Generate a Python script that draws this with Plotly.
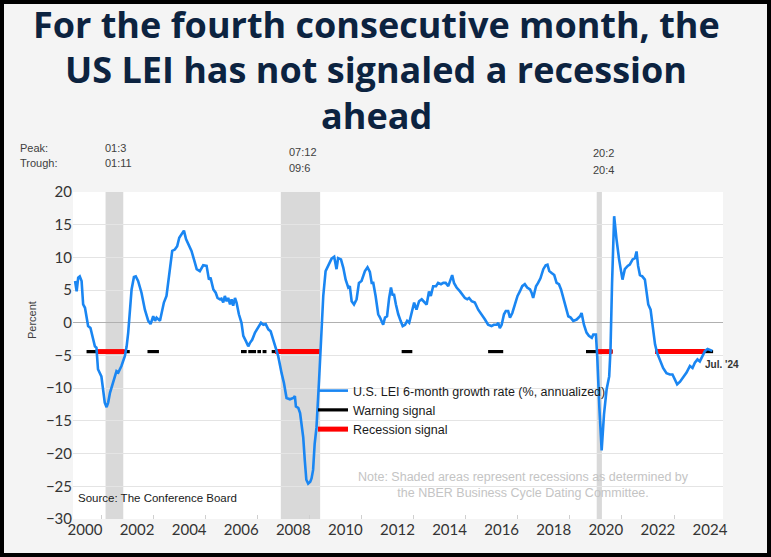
import plotly.graph_objects as go

# ---------------- data ----------------
lei_year = [
    2000.00, 2000.06, 2000.12, 2000.18, 2000.25, 2000.31, 2000.38, 2000.44, 2000.50, 2000.59,
    2000.70, 2000.76, 2000.82, 2000.88, 2001.01, 2001.08, 2001.14, 2001.21, 2001.27, 2001.34,
    2001.46, 2001.59, 2001.66, 2001.78, 2001.91, 2001.98, 2002.04, 2002.10, 2002.17, 2002.26,
    2002.33, 2002.42, 2002.55, 2002.68, 2002.81, 2002.90, 2003.00, 2003.07, 2003.13, 2003.26,
    2003.32, 2003.41, 2003.51, 2003.58, 2003.67, 2003.73, 2003.83, 2003.92, 2004.00, 2004.11,
    2004.18, 2004.26, 2004.35, 2004.47, 2004.60, 2004.67, 2004.79, 2004.86, 2004.92, 2005.05,
    2005.14, 2005.20, 2005.31, 2005.40, 2005.47, 2005.56, 2005.62, 2005.69, 2005.75, 2005.82,
    2005.88, 2005.95, 2006.01, 2006.07, 2006.14, 2006.20, 2006.29, 2006.39, 2006.46, 2006.56,
    2006.65, 2006.71, 2006.80, 2006.91, 2007.03, 2007.14, 2007.23, 2007.32, 2007.42, 2007.51,
    2007.61, 2007.71, 2007.80, 2007.93, 2008.02, 2008.12, 2008.25, 2008.38, 2008.44, 2008.48,
    2008.57, 2008.64, 2008.70, 2008.76, 2008.82, 2008.88, 2008.95, 2009.03, 2009.08, 2009.14,
    2009.20, 2009.27, 2009.37, 2009.47, 2009.53, 2009.62, 2009.72, 2009.85, 2009.95, 2010.04,
    2010.10, 2010.21, 2010.30, 2010.39, 2010.49, 2010.55, 2010.62, 2010.71, 2010.81, 2010.90,
    2011.00, 2011.13, 2011.23, 2011.32, 2011.39, 2011.45, 2011.54, 2011.64, 2011.71, 2011.77,
    2011.83, 2011.90, 2011.98, 2012.06, 2012.13, 2012.19, 2012.25, 2012.32, 2012.41, 2012.50,
    2012.58, 2012.67, 2012.75, 2012.83, 2012.92, 2013.02, 2013.11, 2013.21, 2013.31, 2013.41,
    2013.50, 2013.59, 2013.66, 2013.75, 2013.86, 2013.94, 2014.05, 2014.14, 2014.23, 2014.33,
    2014.42, 2014.48, 2014.55, 2014.65, 2014.78, 2014.88, 2014.97, 2015.06, 2015.13, 2015.23,
    2015.35, 2015.48, 2015.61, 2015.74, 2015.86, 2015.99, 2016.08, 2016.19, 2016.25, 2016.31,
    2016.38, 2016.47, 2016.54, 2016.63, 2016.70, 2016.79, 2016.89, 2016.99, 2017.08, 2017.17,
    2017.27, 2017.36, 2017.47, 2017.53, 2017.59, 2017.70, 2017.78, 2017.87, 2017.98, 2018.07,
    2018.14, 2018.21, 2018.30, 2018.40, 2018.49, 2018.58, 2018.66, 2018.74, 2018.84, 2018.94,
    2019.03, 2019.13, 2019.26, 2019.39, 2019.45, 2019.54, 2019.64, 2019.73, 2019.84, 2019.90,
    2020.00, 2020.05, 2020.13, 2020.22, 2020.31, 2020.41, 2020.51, 2020.56, 2020.62, 2020.70,
    2020.79, 2020.89, 2021.02, 2021.11, 2021.22, 2021.30, 2021.41, 2021.50, 2021.56, 2021.62,
    2021.69, 2021.78, 2021.88, 2021.95, 2022.01, 2022.10, 2022.18, 2022.27, 2022.35, 2022.46,
    2022.58, 2022.71, 2022.84, 2022.94, 2023.03, 2023.12, 2023.23, 2023.35, 2023.48, 2023.61,
    2023.71, 2023.80, 2023.90, 2023.99, 2024.10, 2024.19, 2024.29, 2024.38, 2024.47,
]
lei_value = [
    6.4, 4.8, 6.9, 7.1, 6.4, 2.8, 2.3, 1.0, -0.5, -0.8,
    -2.6, -3.6, -3.8, -7.1, -8.2, -10.2, -12.2, -12.9, -12.2, -10.7,
    -9.2, -7.4, -7.6, -6.6, -5.1, -3.6, -1.5, 1.5, 5.1, 7.0,
    7.1, 6.4, 4.6, 2.0, 0.3, -0.2, 1.0, 0.3, 0.8, 0.3,
    1.5, 3.1, 4.1, 6.1, 9.2, 11.0, 11.2, 11.7, 13.0, 13.8,
    14.1, 12.8, 12.0, 11.0, 9.2, 8.2, 7.9, 8.4, 8.8, 8.7,
    6.6, 6.9, 5.1, 4.6, 3.8, 3.6, 3.7, 3.1, 4.1, 3.3,
    3.8, 2.8, 3.6, 2.6, 3.8, 3.1, 1.3, 0.0, -2.0, -2.8,
    -3.6, -3.1, -2.6, -1.5, -0.8, 0.0, -0.3, -0.2, -1.0, -1.3,
    -2.6, -4.1, -5.1, -7.7, -9.2, -11.5, -11.7, -11.5, -11.2, -12.8,
    -13.0, -13.8, -15.8, -17.5, -21.0, -24.0, -24.6, -24.3, -23.8, -22.5,
    -18.5, -16.0, -8.7, -1.0, 4.1, 7.9, 8.8, 9.8, 10.1, 8.2,
    9.9, 9.7, 8.4, 6.6, 5.4, 5.6, 3.3, 2.8, 3.6, 6.1,
    6.4, 7.9, 8.5, 7.8, 6.1, 6.1, 4.1, 1.3, 0.8, 0.3,
    -0.3, 0.8, 1.0, 3.8, 5.4, 4.3, 4.3, 2.8, 1.3, 0.3,
    -0.5, -0.3, 0.3, 0.0, 1.5, 3.1, 2.0, 3.3, 3.6, 3.1,
    2.8, 4.8, 4.1, 5.6, 5.6, 6.1, 5.9, 6.1, 6.1, 5.6,
    6.6, 7.3, 6.1, 5.4, 4.8, 4.3, 3.8, 3.6, 3.8, 3.3,
    3.1, 2.0, 1.3, 0.5, -0.3, -0.5, -0.3, -0.3, 0.0, -0.8,
    -0.3, 1.3, 1.8, 1.8, 0.8, 1.5, 2.8, 4.1, 4.8, 5.6,
    5.9, 5.4, 5.1, 4.6, 3.8, 5.6, 6.1, 6.8, 8.2, 8.8,
    8.9, 7.9, 7.6, 7.3, 6.1, 5.9, 5.1, 3.8, 2.3, 1.0,
    0.8, 0.3, 0.5, 1.0, 1.5, -0.3, -1.5, -2.0, -2.3, -1.8,
    -1.8, -5.1, -12.8, -19.5, -14.0, -10.2, -8.2, -4.1, 6.1, 16.3,
    12.8, 9.7, 6.6, 8.2, 8.7, 8.9, 9.7, 9.9, 10.9, 8.7,
    7.3, 7.1, 6.6, 4.1, 2.8, 2.0, -0.5, -3.3, -4.6, -5.6,
    -6.9, -7.7, -7.9, -7.9, -8.7, -9.4, -9.0, -8.4, -7.6, -6.6,
    -6.9, -6.1, -5.6, -5.9, -5.1, -4.3, -4.0, -4.1, -4.3,
]

recession_start = [2001.17, 2007.90, 2020.03]
recession_end = [2001.85, 2009.41, 2020.23]
recession_peak_labels = ["01:3", "07:12", "20:2"]
recession_trough_labels = ["01:11", "09:6", "20:4"]

signal_level = -4.4
warning_start = [2000.44, 2002.78, 2006.37, 2006.65, 2007.00, 2007.20, 2007.55, 2012.54, 2015.86, 2019.62, 2024.19]
warning_end = [2002.10, 2003.22, 2006.59, 2006.95, 2007.14, 2007.35, 2007.74, 2012.95, 2016.44, 2020.64, 2024.50]
recess_sig_start = [2000.83, 2007.68, 2020.03, 2022.27]
recess_sig_end = [2001.91, 2009.40, 2020.64, 2024.19]

tick_years = [2000, 2002, 2004, 2006, 2008, 2010, 2012, 2014, 2016, 2018, 2020, 2022, 2024]
minor_tick_years = [2001, 2003, 2005, 2007, 2009, 2011, 2013, 2015, 2017, 2019, 2021, 2023]

title_lines = ["For the fourth consecutive month, the",
               "US LEI has not signaled a recession",
               "ahead"]

# ---------------- layout geometry ----------------
W, H = 771, 557
L, R, T, B = 73, 48, 192, 38
PW, PH = W - L - R, H - T - B


def fx(p):
    return (p - L) / PW


def fy(p):
    return (H - B - p) / PH


def segs(starts, ends, level):
    xs, ys = [], []
    for s, e in zip(starts, ends):
        xs += [s, e, None]
        ys += [level, level, None]
    return xs, ys


fig = go.Figure()

wx, wy = segs(warning_start, warning_end, signal_level)
rx, ry = segs(recess_sig_start, recess_sig_end, signal_level)

fig.add_trace(go.Scatter(x=wx, y=wy, mode="lines", name="Warning signal",
                         line=dict(color="#000000", width=3.2), legendrank=2))
fig.add_trace(go.Scatter(x=rx, y=ry, mode="lines", name="Recession signal",
                         line=dict(color="#ff0000", width=5), legendrank=3))
fig.add_trace(go.Scatter(x=lei_year, y=lei_value, mode="lines",
                         name="U.S. LEI 6-month growth rate (%, annualized)",
                         line=dict(color="#1a86f2", width=2.6), legendrank=1))

for s, e in zip(recession_start, recession_end):
    fig.add_shape(type="rect", xref="x", yref="paper", x0=s, x1=e, y0=0, y1=1,
                  fillcolor="#d9d9d9", line=dict(width=0), layer="between")

# frame around the picture
fig.add_shape(type="rect", xref="paper", yref="paper",
              x0=fx(2), x1=fx(W - 2), y0=fy(H - 2), y1=fy(2),
              line=dict(color="#000000", width=4), fillcolor="rgba(0,0,0,0)")

small = dict(family="Liberation Sans, Arial, sans-serif", size=11, color="#404040")
ann = []
ann.append(dict(text="Peak:", x=fx(18), y=fy(148)))
ann.append(dict(text="Trough:", x=fx(18), y=fy(163)))
peak_px = [(103, 148, 163), (287, 152, 168), (591, 153, 170)]
for (px, py1, py2), pk, tr in zip(peak_px, recession_peak_labels, recession_trough_labels):
    ann.append(dict(text=pk, x=fx(px), y=fy(py1)))
    ann.append(dict(text=tr, x=fx(px), y=fy(py2)))
annotations = []
for a in ann:
    a.update(xref="paper", yref="paper", xanchor="left", yanchor="middle",
             showarrow=False, font=small)
    annotations.append(a)

for line_text, cy in zip(title_lines, [24, 69, 115]):
    annotations.append(dict(text=line_text, x=fx(376), y=fy(cy),
                            xref="paper", yref="paper", xanchor="center", yanchor="middle",
                            showarrow=False, align="center", borderpad=0,
                            font=dict(family="Open Sans, sans-serif", size=36,
                                      color="#0c2340", weight="bold")))
annotations.append(dict(text="Source: The Conference Board", x=fx(76), y=fy(498),
                        xref="paper", yref="paper", xanchor="left", yanchor="middle",
                        showarrow=False,
                        font=dict(family="Liberation Sans, Arial, sans-serif", size=11.5, color="#1a1a1a")))
annotations.append(dict(text="Note: Shaded areas represent recessions as determined by<br>the NBER Business Cycle Dating Committee.",
                        x=fx(523), y=fy(485), xref="paper", yref="paper",
                        xanchor="center", yanchor="middle", showarrow=False, align="center",
                        font=dict(family="Liberation Sans, Arial, sans-serif", size=12.5, color="#c4c4c4")))
annotations.append(dict(text="<b>Jul. '24</b>", x=fx(703), y=fy(364), xref="paper", yref="paper",
                        xanchor="left", yanchor="middle", showarrow=False,
                        font=dict(family="Liberation Sans, Arial, sans-serif", size=10, color="#333333")))
annotations.append(dict(text="Percent", x=fx(32), y=fy(320), xref="paper", yref="paper",
                        xanchor="center", yanchor="middle", showarrow=False, textangle=-90,
                        font=dict(family="Liberation Sans, Arial, sans-serif", size=11, color="#404040")))

fig.update_layout(
    width=W, height=H,
    margin=dict(l=L, r=R, t=T, b=B),
    paper_bgcolor="#f4f4f4",
    plot_bgcolor="#ffffff",
    showlegend=True,
    legend=dict(x=fx(313), y=fy(376), xanchor="left", yanchor="top",
                bgcolor="rgba(0,0,0,0)", borderwidth=0, tracegroupgap=0,
                font=dict(family="Liberation Sans, Arial, sans-serif", size=12.5, color="#1a1a1a")),
    annotations=annotations,
    xaxis=dict(range=[1999.92, 2024.88], showgrid=False, zeroline=False,
               tickmode="array", tickvals=[y + 0.38 for y in tick_years],
               ticktext=[str(y) for y in tick_years], ticks="",
               tickfont=dict(family="Lato, sans-serif", size=15, color="#333333"),
               showline=False,
               minor=dict(tickmode="array", tickvals=minor_tick_years, ticks="inside",
                          ticklen=4, tickcolor="#cfcfcf", showgrid=False)),
    yaxis=dict(range=[-30, 20], dtick=5, tick0=0, showgrid=True, gridcolor="#e4e4e4", gridwidth=1,
               zeroline=True, zerolinecolor="#b0b0b0", zerolinewidth=1,
               ticks="", tickfont=dict(family="Lato, sans-serif", size=15, color="#333333"),
               showline=False),
)

fig.write_html("out.html")
